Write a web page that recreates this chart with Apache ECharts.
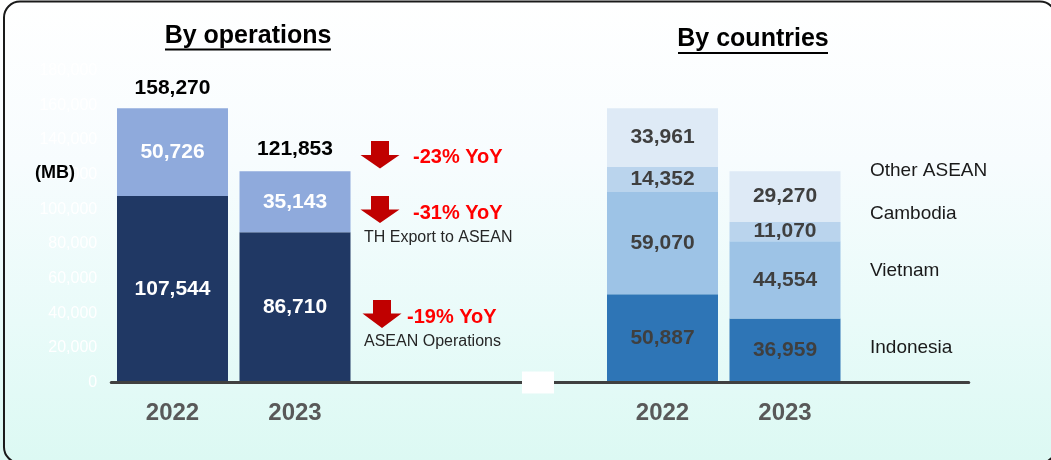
<!DOCTYPE html>
<html>
<head>
<meta charset="utf-8">
<script src="https://cdn.jsdelivr.net/npm/echarts@6/dist/echarts.min.js"></script>
<style>
  html, body { margin: 0; padding: 0; }
  body {
    width: 1051px; height: 460px; overflow: hidden;
    background: linear-gradient(180deg, #ffffff 0%, #f7fcfe 35%, #e9fbf9 70%, #dcf9f3 100%);
  }
  #chart { width: 1051px; height: 460px; }
</style>
</head>
<body>
<div id="chart"></div>
<script>
// Years shown under each panel
const years = ['2022', '2023'];

// By operations (MB)
const aseanOperations = [107544, 86710];
const thExportToAsean = [50726, 35143];

// By countries (MB)
const indonesia = [50887, 36959];
const vietnam = [59070, 44554];
const cambodia = [14352, 11070];
const otherAsean = [33961, 29270];

// YoY notes beside the operations bars
const yoyTotal = '-23% YoY';
const yoyExport = '-31% YoY';
const yoyOps = '-19% YoY';

// Value axis ticks
const yMin = 0, yMax = 180000, yStep = 20000;

const FONT = '"Liberation Sans", Arial, Helvetica, sans-serif';
const fmt = v => Number(v).toLocaleString('en-US');

// One shared category axis: two operation bars, a gap, two country bars, tail
const categories = [years[0], years[1], '', '', years[0], years[1], ''];
const opsRow = v => [v[0], v[1], '-', '-', '-', '-', '-'];
const ctryRow = v => ['-', '-', '-', '-', v[0], v[1], '-'];
const opsTotals = years.map((_, i) => aseanOperations[i] + thExportToAsean[i]);

const opsLabel = {
  show: true, position: 'inside', color: '#ffffff',
  fontFamily: FONT, fontWeight: 'bold', fontSize: 21,
  formatter: p => fmt(p.value)
};
const ctryLabel = {
  show: true, position: 'inside', color: '#3f3f3f',
  fontFamily: FONT, fontWeight: 'bold', fontSize: 21,
  formatter: p => fmt(p.value)
};

function bar(name, data, color, label) {
  return {
    name, type: 'bar', stack: 'all', barWidth: 111, data,
    itemStyle: { color }, label, emphasis: { disabled: true }
  };
}

// Down arrow as a polygon: shaft then head
function arrow(cx, top, headTop, tip, halfShaft, halfHead) {
  return {
    type: 'polygon', z: 50,
    shape: { points: [
      [cx - halfShaft, top], [cx + halfShaft, top], [cx + halfShaft, headTop],
      [cx + halfHead, headTop], [cx, tip], [cx - halfHead, headTop], [cx - halfShaft, headTop]
    ] },
    style: { fill: '#c00000' }
  };
}
function txt(x, y, text, size, color, weight, align) {
  return {
    type: 'text', x, y, z: 50,
    style: { text, fontFamily: FONT, fontSize: size, fill: color,
      fontWeight: weight || 'normal', textAlign: align || 'left', textVerticalAlign: 'middle' }
  };
}
function title(cx, cy, text, underlineY, halfW) {
  return [
    { type: 'text', x: cx, y: cy, z: 50,
      style: { text, fontFamily: FONT, fontSize: 25, fontWeight: 'bold', fill: '#000',
        textAlign: 'center', textVerticalAlign: 'middle' } },
    { type: 'line', z: 50, shape: { x1: cx - halfW, y1: underlineY, x2: cx + halfW, y2: underlineY },
      style: { stroke: '#000', lineWidth: 2 } }
  ];
}

const chart = echarts.init(document.getElementById('chart'), null, { renderer: 'canvas' });
chart.setOption({
  animation: false,
  backgroundColor: 'transparent',
  grid: { left: 111.25, right: 82.25, top: 70.5, bottom: 77.5, containLabel: false },
  xAxis: {
    type: 'category', data: categories, z: 5,
    axisLine: { show: true, lineStyle: { color: '#404040', width: 3 } },
    axisTick: { show: false },
    axisLabel: { interval: 0, margin: 19, color: '#595959', fontFamily: FONT,
      fontWeight: 'bold', fontSize: 24 }
  },
  yAxis: {
    type: 'value', min: yMin, max: yMax, interval: yStep,
    axisLine: { show: false }, axisTick: { show: false }, splitLine: { show: false },
    axisLabel: { margin: 14, color: '#ffffff', fontFamily: FONT, fontSize: 16,
      formatter: v => fmt(v) }
  },
  series: [
    bar('ASEAN Operations', opsRow(aseanOperations), '#203864', opsLabel),
    bar('TH Export to ASEAN', opsRow(thExportToAsean), '#8faadc', opsLabel),
    bar('Indonesia', ctryRow(indonesia), '#2e75b6', ctryLabel),
    bar('Vietnam', ctryRow(vietnam), '#9dc3e6', ctryLabel),
    bar('Cambodia', ctryRow(cambodia), '#bad4ed', ctryLabel),
    bar('Other ASEAN', ctryRow(otherAsean), '#deeaf6', ctryLabel),
    {
      name: 'Total', type: 'bar', stack: 'all', barWidth: 111,
      data: [
        { value: 0, label: { distance: 9 } },
        { value: 0, label: { distance: 12 } },
        '-', '-', '-', '-', '-'
      ],
      itemStyle: { color: 'transparent' },
      label: { show: true, position: 'top', color: '#000',
        fontFamily: FONT, fontWeight: 'bold', fontSize: 21,
        formatter: p => fmt(opsTotals[p.dataIndex]) }
    }
  ],
  graphic: [
    // frame
    { type: 'rect', z: 60, shape: { x: 4, y: 1.5, width: 1052, height: 461.5, r: 16 },
      style: { fill: null, stroke: '#1a1a1a', lineWidth: 2 } },
    // gap marker on the baseline
    { type: 'rect', z: 60, shape: { x: 522, y: 371.5, width: 32, height: 22 },
      style: { fill: '#ffffff' } },
    ...title(248, 36.5, 'By operations', 49.5, 83),
    ...title(753, 39.5, 'By countries', 53, 75),
    txt(35, 173, '(MB)', 18, '#000', 'bold'),
    arrow(380, 141, 155, 168.5, 9, 19.5),
    txt(413, 157, yoyTotal, 20, '#ff0000', 'bold'),
    arrow(380, 196, 209.5, 223, 9, 19.5),
    txt(413, 213, yoyExport, 20, '#ff0000', 'bold'),
    txt(364, 237.5, 'TH Export to ASEAN', 16, '#262626'),
    arrow(382, 300, 313.5, 328, 9, 19.5),
    txt(407, 317, yoyOps, 20, '#ff0000', 'bold'),
    txt(364, 342, 'ASEAN Operations', 16, '#262626'),
    txt(870, 171, 'Other ASEAN', 19, '#1a1a1a'),
    txt(870, 214, 'Cambodia', 19, '#1a1a1a'),
    txt(870, 271, 'Vietnam', 19, '#1a1a1a'),
    txt(870, 348, 'Indonesia', 19, '#1a1a1a')
  ]
});
</script>
</body>
</html>
